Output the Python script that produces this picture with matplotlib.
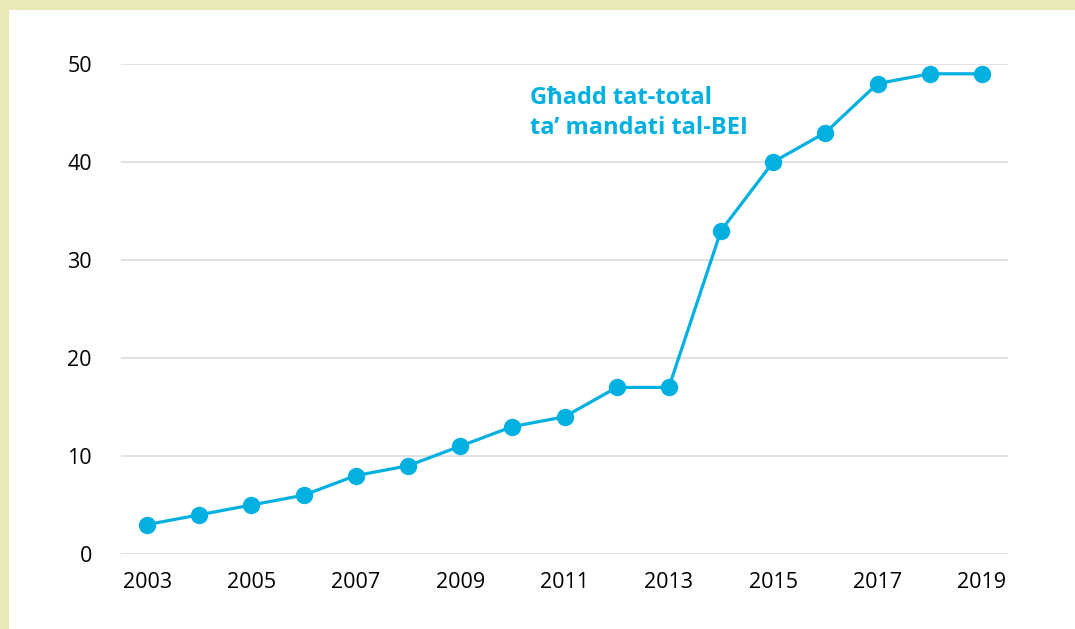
import matplotlib
matplotlib.use("Agg")
import matplotlib.pyplot as plt
from matplotlib.patches import Rectangle

years = list(range(2003, 2020))
values = [3, 4, 5, 6, 8, 9, 11, 13, 14, 17, 17, 33, 40, 43, 48, 49, 49]
xtick_labels = ["2003", "2005", "2007", "2009", "2011", "2013", "2015", "2017", "2019"]
yticks = [0, 10, 20, 30, 40, 50]
annotation = "Għadd tat-total\nta’ mandati tal-BEI"

line_color = "#00B0E0"
plt.rcParams['font.family'] = ['Open Sans', 'DejaVu Sans']

fig = plt.figure(figsize=(10.75, 6.29), dpi=100)
fig.patch.set_facecolor("#E9E9B5")
bg = Rectangle((9 / 1075, 0), 1, 1 - 10 / 629, transform=fig.transFigure,
               facecolor="white", edgecolor="none", zorder=-10)
fig.add_artist(bg)

ax = fig.add_axes([121 / 1075, 1 - 554 / 629, (1008 - 121) / 1075, (554 - 64) / 629])
ax.set_zorder(5)
ax.set_facecolor("none")
ax.plot(years, values, color=line_color, linewidth=2.3, marker="o", markersize=11.5,
        clip_on=False, zorder=3)

ax.set_xlim(2002.5, 2019.5)
ax.set_ylim(0, 50)
ax.set_xticks([int(t) for t in xtick_labels])
ax.set_xticklabels(xtick_labels)
ax.set_yticks(yticks)
ax.grid(axis="y", color="#DCDCDC", linewidth=1.2)
ax.set_axisbelow(True)
for s in ax.spines.values():
    s.set_visible(False)
ax.tick_params(axis="both", length=0, labelsize=15.5, colors="black")
ax.tick_params(axis="y", pad=21)
ax.tick_params(axis="x", pad=13)

t = fig.text(530 / 1075, 1 - 86 / 629, annotation, color=line_color, fontsize=17,
             fontweight="bold", va="top", ha="left", linespacing=1.35)
t.set_zorder(6)

fig.savefig("out.png", dpi=100, facecolor=fig.get_facecolor())
